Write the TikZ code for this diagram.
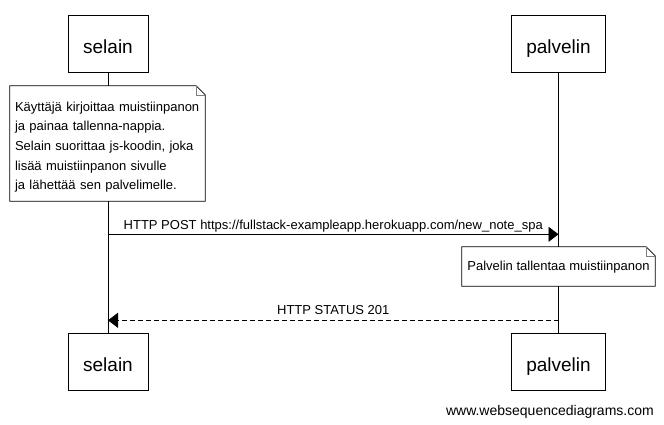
\documentclass[tikz,border=0pt]{standalone}
\usepackage{fontspec}
\setmainfont{Liberation Sans}
\usetikzlibrary{arrows.meta,calc}

\tikzset{
  actor/.style={draw, line width=0.8pt, fill=white, minimum width=80pt, minimum height=57pt,
    inner sep=0pt, text height=19pt, text depth=0pt, font=\fontsize{19}{22}\selectfont},
  notebox/.style={fill=white, inner xsep=5pt, inner ysep=0pt, font=\fontsize{13}{19.7}\selectfont},
  msg/.style={line width=0.8pt, -{Triangle[length=10pt,width=15pt]}},
  reply/.style={msg, dash pattern=on 5pt off 3pt},
  msglabel/.style={anchor=base, inner sep=0pt, font=\fontsize{13}{15}\selectfont},
}
% folded corner outline of a note
\newcommand{\notefold}[1]{%
  \draw[line width=0.8pt] (#1.north west) -- ($(#1.north east)+(-9,0)$)
    -- ($(#1.north east)+(0,9)$) -- (#1.south east) -- (#1.south west) -- cycle;
  \draw[gray, line width=0.6pt] ($(#1.north east)+(-9,0)$) -- ($(#1.north east)+(-9,9)$)
    -- ($(#1.north east)+(0,9)$);
}

\begin{document}
\begin{tikzpicture}[x=1pt, y=-1pt]
  \useasboundingbox (0,0) rectangle (664,424);

  % participants
  \node[actor] (sTop) at (108,43.5) {selain};
  \node[actor, minimum width=94pt] (pTop) at (558.5,43.5) {palvelin};
  \node[actor] (sBot) at (108,361.8) {selain};
  \node[actor, minimum width=94pt] (pBot) at (558.5,361.8) {palvelin};

  % lifelines
  \draw[line width=0.8pt] (sTop) -- (sBot);
  \draw[line width=0.8pt] (pTop) -- (pBot);

  % notes
  \node[notebox, minimum width=195pt, minimum height=115pt, text width=185pt, align=left,
    text height=13.5pt, text depth=78.5pt]
    (n1) at (107.5,143.5) {Käyttäjä kirjoittaa muistiinpanon\\ja painaa tallenna-nappia.\\Selain suorittaa js-koodin, joka\\lisää muistiinpanon sivulle\\ja lähettää sen palvelimelle.};
  \notefold{n1}
  \node[notebox, minimum width=193pt, minimum height=39pt, text height=11.5pt, text depth=2.7pt]
    (n2) at (558.5,266.5) {Palvelin tallentaa muistiinpanon};
  \notefold{n2}

  % messages
  \coordinate (y1) at (0,234.3);
  \coordinate (y2) at (0,320.3);
  \draw[msg] (sTop |- y1) -- node[msglabel, yshift=4.5pt] (l1) {HTTP POST https://fullstack-exampleapp.herokuapp.com/new\_note\_spa} (pTop |- y1);
  \draw[reply] (pTop |- y2) -- node[msglabel, yshift=5.5pt] (l2) {HTTP STATUS 201} (sTop |- y2);

  \node[anchor=base east, inner sep=0pt, font=\fontsize{14}{16}\selectfont] (wsd) at (654,415) {www.websequencediagrams.com};
\end{tikzpicture}
\end{document}
